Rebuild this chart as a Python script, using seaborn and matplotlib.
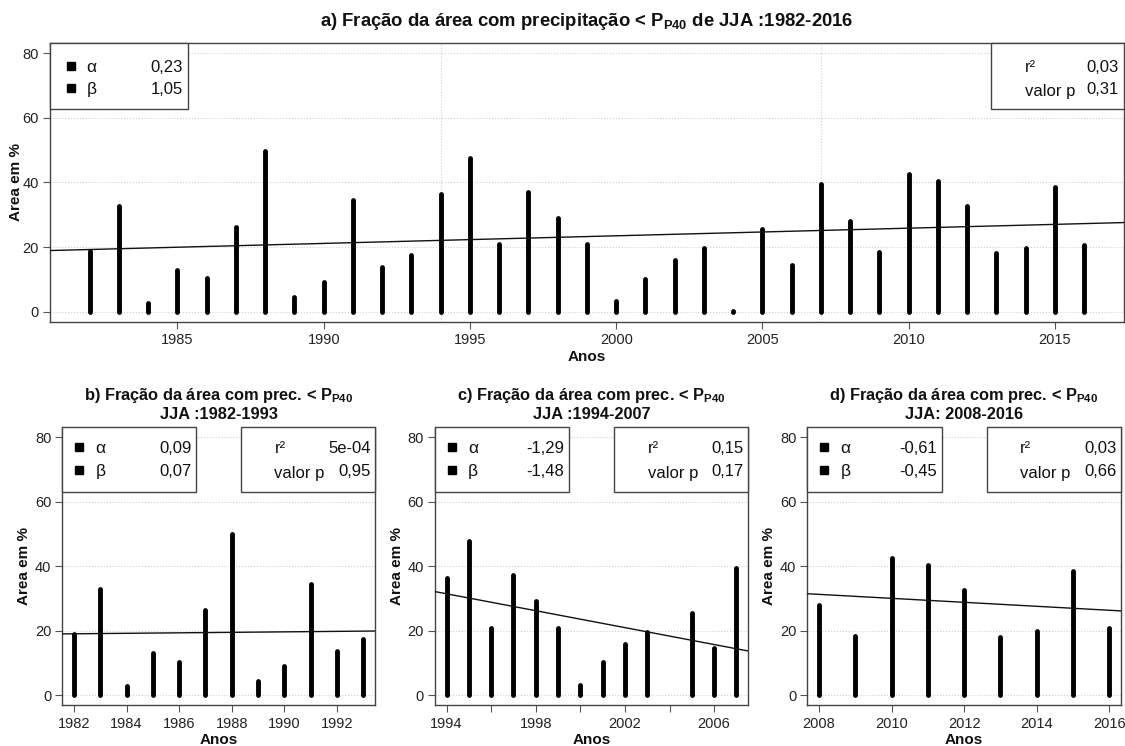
import numpy as np
import pandas as pd
import matplotlib
matplotlib.use('Agg')
import matplotlib.pyplot as plt
import matplotlib.patches as mpatches
import seaborn as sns

# ---------------- data ----------------
years = list(range(1982, 2017))
area_pct = [18.9, 32.8, 2.8, 13.0, 10.4, 26.3, 49.9, 4.5, 9.2, 34.5, 13.7, 17.5,
            36.4, 47.7, 20.9, 37.2, 29.1, 20.8, 3.3, 10.2, 16.0, 19.7, 0.2, 25.5, 14.5, 39.5,
            28.0, 18.5, 42.5, 40.5, 32.7, 18.1, 19.8, 38.5, 20.7]
periods = [(1982, 2016), (1982, 1993), (1994, 2007), (2008, 2016)]
period_breaks = [1994, 2007]
alpha_vals = ['0,23', '0,09', '-1,29', '-0,61']
beta_vals = ['1,05', '0,07', '-1,48', '-0,45']
r2_vals = ['0,03', '5e-04', '0,15', '0,03']
p_vals = ['0,31', '0,95', '0,17', '0,66']
ptxt = r"$\mathbf{P}_{\mathbf{P40}}$"
titles = [
    "a) Fração da área com precipitação < " + ptxt + " de JJA :1982-2016",
    "b) Fração da área com prec. < " + ptxt + "\nJJA :1982-1993",
    "c) Fração da área com prec. < " + ptxt + "\nJJA :1994-2007",
    "d) Fração da área com prec. < " + ptxt + "\nJJA: 2008-2016",
]
yticks = [0, 20, 40, 60, 80]

df = pd.DataFrame({'ano': years, 'area': area_pct})

# ---------------- style ----------------
sns.set_theme(style='white')
plt.rcParams['font.family'] = ['Liberation Sans', 'DejaVu Sans']
plt.rcParams['mathtext.fontset'] = 'custom'
plt.rcParams['mathtext.rm'] = 'Liberation Sans'
plt.rcParams['mathtext.bf'] = 'Liberation Sans:bold'
plt.rcParams['mathtext.it'] = 'Liberation Sans:italic'

fig = plt.figure(figsize=(11.25, 7.46), dpi=100)
axes_pos = [
    [0.0444, 0.5684, 0.9547, 0.3740],
    [0.0555, 0.0543, 0.2776, 0.3733],
    [0.3866, 0.0543, 0.2783, 0.3733],
    [0.7177, 0.0543, 0.2786, 0.3733],
]
spine_col = '#444444'

for i, (pos, (y0, y1)) in enumerate(zip(axes_pos, periods)):
    ax = fig.add_axes(pos)
    sub = df[(df['ano'] >= y0) & (df['ano'] <= y1)]
    span = y1 - y0
    xlim = (y0 - 0.04 * span, y1 + 0.04 * span)
    ylim = (-3.2, 83.2)
    ax.set_xlim(*xlim)
    ax.set_ylim(*ylim)

    # grid
    for yt in yticks:
        ax.axhline(yt, color='#d0d0d0', lw=0.8, ls=':', zorder=0)
    if i == 0:
        for b in period_breaks:
            ax.axvline(b, color='#d0d0d0', lw=0.8, ls=':', zorder=0)

    # bars (vertical lines of points)
    ax.vlines(sub['ano'], 0, sub['area'], colors='black', lw=3.5,
              capstyle='round', zorder=3)

    # trend line
    sns.regplot(data=sub, x='ano', y='area', ax=ax, scatter=False, ci=None,
                truncate=False, color='#111111', line_kws={'lw': 1.0, 'zorder': 4})
    ax.set_xlim(*xlim)
    ax.set_ylim(*ylim)

    # ticks
    ax.set_yticks(yticks)
    if i == 0:
        xt = list(range(1985, 2016, 5))
        ax.set_xticks(xt)
        ax.set_xticklabels([str(v) for v in xt])
    else:
        xt = list(range(y0, y1 + 1, 2))
        ax.set_xticks(xt)
        if i == 2:
            ax.set_xticklabels([str(v) if (v - y0) % 4 == 0 else '' for v in xt])
        else:
            ax.set_xticklabels([str(v) for v in xt])
    ax.tick_params(axis='both', which='both', direction='out', length=5, width=0.8,
                   color='#555555', labelcolor='#222222', labelsize=10.5,
                   bottom=True, left=True, pad=3)

    # spines
    for s in ax.spines.values():
        s.set_color(spine_col)
        s.set_linewidth(1.0)
    if i > 0:
        ax.spines['top'].set_visible(False)

    ax.set_xlabel('Anos', fontsize=11, fontweight='bold', color='#111111', labelpad=2)
    ax.set_ylabel('Area em %', fontsize=11, fontweight='bold', color='#111111',
                  labelpad=-0.5 if i == 0 else 2.5)
    ax.set_title(titles[i], fontsize=13.3 if i == 0 else 11.8, fontweight='bold',
                 color='#111111', pad=12 if i == 0 else 6, linespacing=1.1)

    # legend boxes
    if i == 0:
        lb = dict(x=0.0, w=0.1285, bottom=0.7634)
        rb = dict(x=0.876, w=0.124)
        sq_x, ab_x, val_x = 0.0195, 0.0342, 0.1236
        r_x, rv_x = 0.9076, 0.9947
        row1, row2 = 0.918, 0.840
    else:
        lb = dict(x=0.0, w=0.429, bottom=0.768)
        rb = dict(x=0.572, w=0.428)
        sq_x, ab_x, val_x = 0.053, 0.106, 0.413
        r_x, rv_x = 0.679, 0.9875
        row1, row2 = 0.927, 0.847
    hgt = 1 - lb['bottom']
    for bx, bw in [(lb['x'], lb['w']), (rb['x'], rb['w'])]:
        ax.add_patch(mpatches.Rectangle((bx, lb['bottom']), bw, hgt, transform=ax.transAxes,
                                        facecolor='white', edgecolor=spine_col, lw=1.0,
                                        zorder=6, clip_on=False))
    fs = 12
    for ry, sym, val in [(row1, 'α', alpha_vals[i]), (row2, 'β', beta_vals[i])]:
        ax.plot([sq_x], [ry], marker='s', ms=5.5, color='black', transform=ax.transAxes,
                zorder=7, clip_on=False)
        ax.text(ab_x, ry, sym, transform=ax.transAxes, fontsize=fs + 0.5, ha='left',
                va='center_baseline', zorder=7, color='#111111')
        ax.text(val_x, ry, val, transform=ax.transAxes, fontsize=fs, ha='right',
                va='center_baseline', zorder=7, color='#111111')
    ax.text(r_x, row1, 'r²', transform=ax.transAxes, fontsize=fs, ha='left',
            va='center_baseline', zorder=7, color='#111111')
    ax.text(rv_x, row1, r2_vals[i], transform=ax.transAxes, fontsize=fs, ha='right',
            va='center_baseline', zorder=7, color='#111111')
    ax.text(r_x, row2 - 0.008, 'valor p', transform=ax.transAxes, fontsize=fs, ha='left',
            va='center_baseline', zorder=7, color='#111111')
    ax.text(rv_x, row2, p_vals[i], transform=ax.transAxes, fontsize=fs, ha='right',
            va='center_baseline', zorder=7, color='#111111')

fig.savefig('out.png', dpi=100)
